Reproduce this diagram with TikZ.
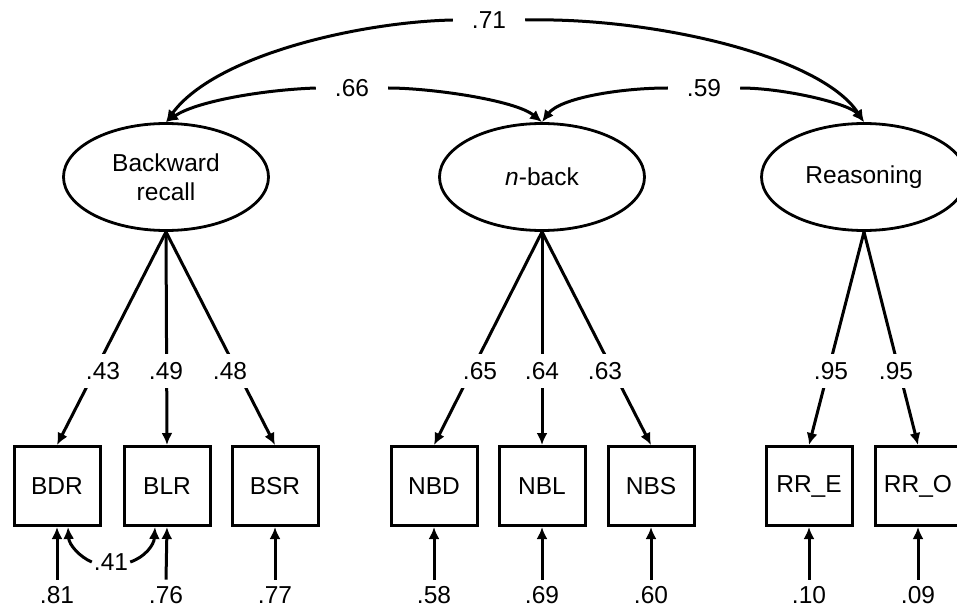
\documentclass[tikz,border=0pt]{standalone}
\usepackage{fontspec}
\setmainfont{Liberation Sans}
\usetikzlibrary{arrows.meta,shapes.geometric}

\begin{document}
\begin{tikzpicture}[x=1pt,y=-1pt,
  every node/.style={font=\fontsize{24.5}{29}\selectfont},
  lat/.style={ellipse, draw, line width=2.8pt, minimum width=205pt,
    minimum height=107pt, inner sep=0pt, align=center},
  obs/.style={rectangle, draw, line width=3pt, minimum width=86pt,
    minimum height=79pt, inner sep=0pt},
  coef/.style={fill=white, inner xsep=6pt, inner ysep=8pt},
  corr/.style={inner xsep=19pt, inner ysep=2pt},
  elab/.style={inner sep=0.5pt},
  path/.style={line width=3pt, -{Latex[length=12pt,width=11pt]}}]

\useasboundingbox (0,0) rectangle (957,607);

% latent factors
\node[lat] (bwd) at (166,177) {Backward\\recall};
\node[lat] (nbk) at (542,177) {\textit{n}-back};
\node[lat] (rea) at (864,177) {Reasoning};

% observed indicators
\node[obs] (bdr) at (57,486)  {BDR};
\node[obs] (blr) at (167,486) {BLR};
\node[obs] (bsr) at (275,486) {BSR};
\node[obs] (nbd) at (434,486) {NBD};
\node[obs] (nbl) at (542,486) {NBL};
\node[obs] (nbs) at (651,486) {NBS};
\node[obs] (rre) at (809,486) {RR\_E};
\node[obs] (rro) at (918,486) {RR\_O};

% factor loadings
\draw[path] (bwd.south) -- (bdr.north);
\draw[path] (bwd.south) -- (blr.north);
\draw[path] (bwd.south) -- (bsr.north);
\draw[path] (nbk.south) -- (nbd.north);
\draw[path] (nbk.south) -- (nbl.north);
\draw[path] (nbk.south) -- (nbs.north);
\draw[path] (rea.south) -- (rre.north);
\draw[path] (rea.south) -- (rro.north);

\node[coef] (l43) at (103,371) {.43};
\node[coef] (l49) at (166,371) {.49};
\node[coef] (l48) at (230,371) {.48};
\node[coef] (l65) at (480,371) {.65};
\node[coef] (l64) at (542,371) {.64};
\node[coef] (l63) at (605,371) {.63};
\node[coef] (l95a) at (831,371) {.95};
\node[coef] (l95b) at (896,371) {.95};

% factor correlations
\node[corr] (r71) at (489,20) {.71};
\draw[path] (r71.west) .. controls (360,22) and (215,55) .. (bwd.north);
\draw[path] (r71.east) .. controls (650,17) and (820,55) .. (rea.north);

\node[corr] (r66) at (352,88) {.66};
\draw[path] (r66.west) .. controls (260,90) and (195,102) .. (bwd.north);
\draw[path] (r66.east) .. controls (430,88) and (515,100) .. (nbk.north);

\node[corr] (r59) at (704,88) {.59};
\draw[path] (r59.west) .. controls (620,88) and (560,98) .. (nbk.north);
\draw[path] (r59.east) .. controls (785,88) and (850,104) .. (rea.north);

% residual variances
\node[elab] (u1) at (57,595)  {.81};
\node[elab] (u2) at (166,595) {.76};
\node[elab] (u3) at (275,595) {.77};
\node[elab] (u4) at (434,595) {.58};
\node[elab] (u5) at (542,595) {.69};
\node[elab] (u6) at (651,595) {.60};
\node[elab] (u7) at (809,595) {.10};
\node[elab] (u8) at (918,595) {.09};
\draw[path] ([yshift=6pt]u1.north) -- (bdr.south);
\draw[path] ([yshift=6pt]u2.north) -- (blr.south);
\draw[path] ([yshift=6pt]u3.north) -- (bsr.south);
\draw[path] ([yshift=6pt]u4.north) -- (nbd.south);
\draw[path] ([yshift=6pt]u5.north) -- (nbl.south);
\draw[path] ([yshift=6pt]u6.north) -- (nbs.south);
\draw[path] ([yshift=6pt]u7.north) -- (rre.south);
\draw[path] ([yshift=6pt]u8.north) -- (rro.south);

% residual correlation BDR--BLR
\node[inner sep=2pt] (r41) at (111,562) {.41};
\draw[path] (r41.west) .. controls (80,557) and (69,545) .. ([xshift=11pt]bdr.south);
\draw[path] (r41.east) .. controls (145,557) and (154,545) .. ([xshift=-12pt]blr.south);

\end{tikzpicture}
\end{document}
